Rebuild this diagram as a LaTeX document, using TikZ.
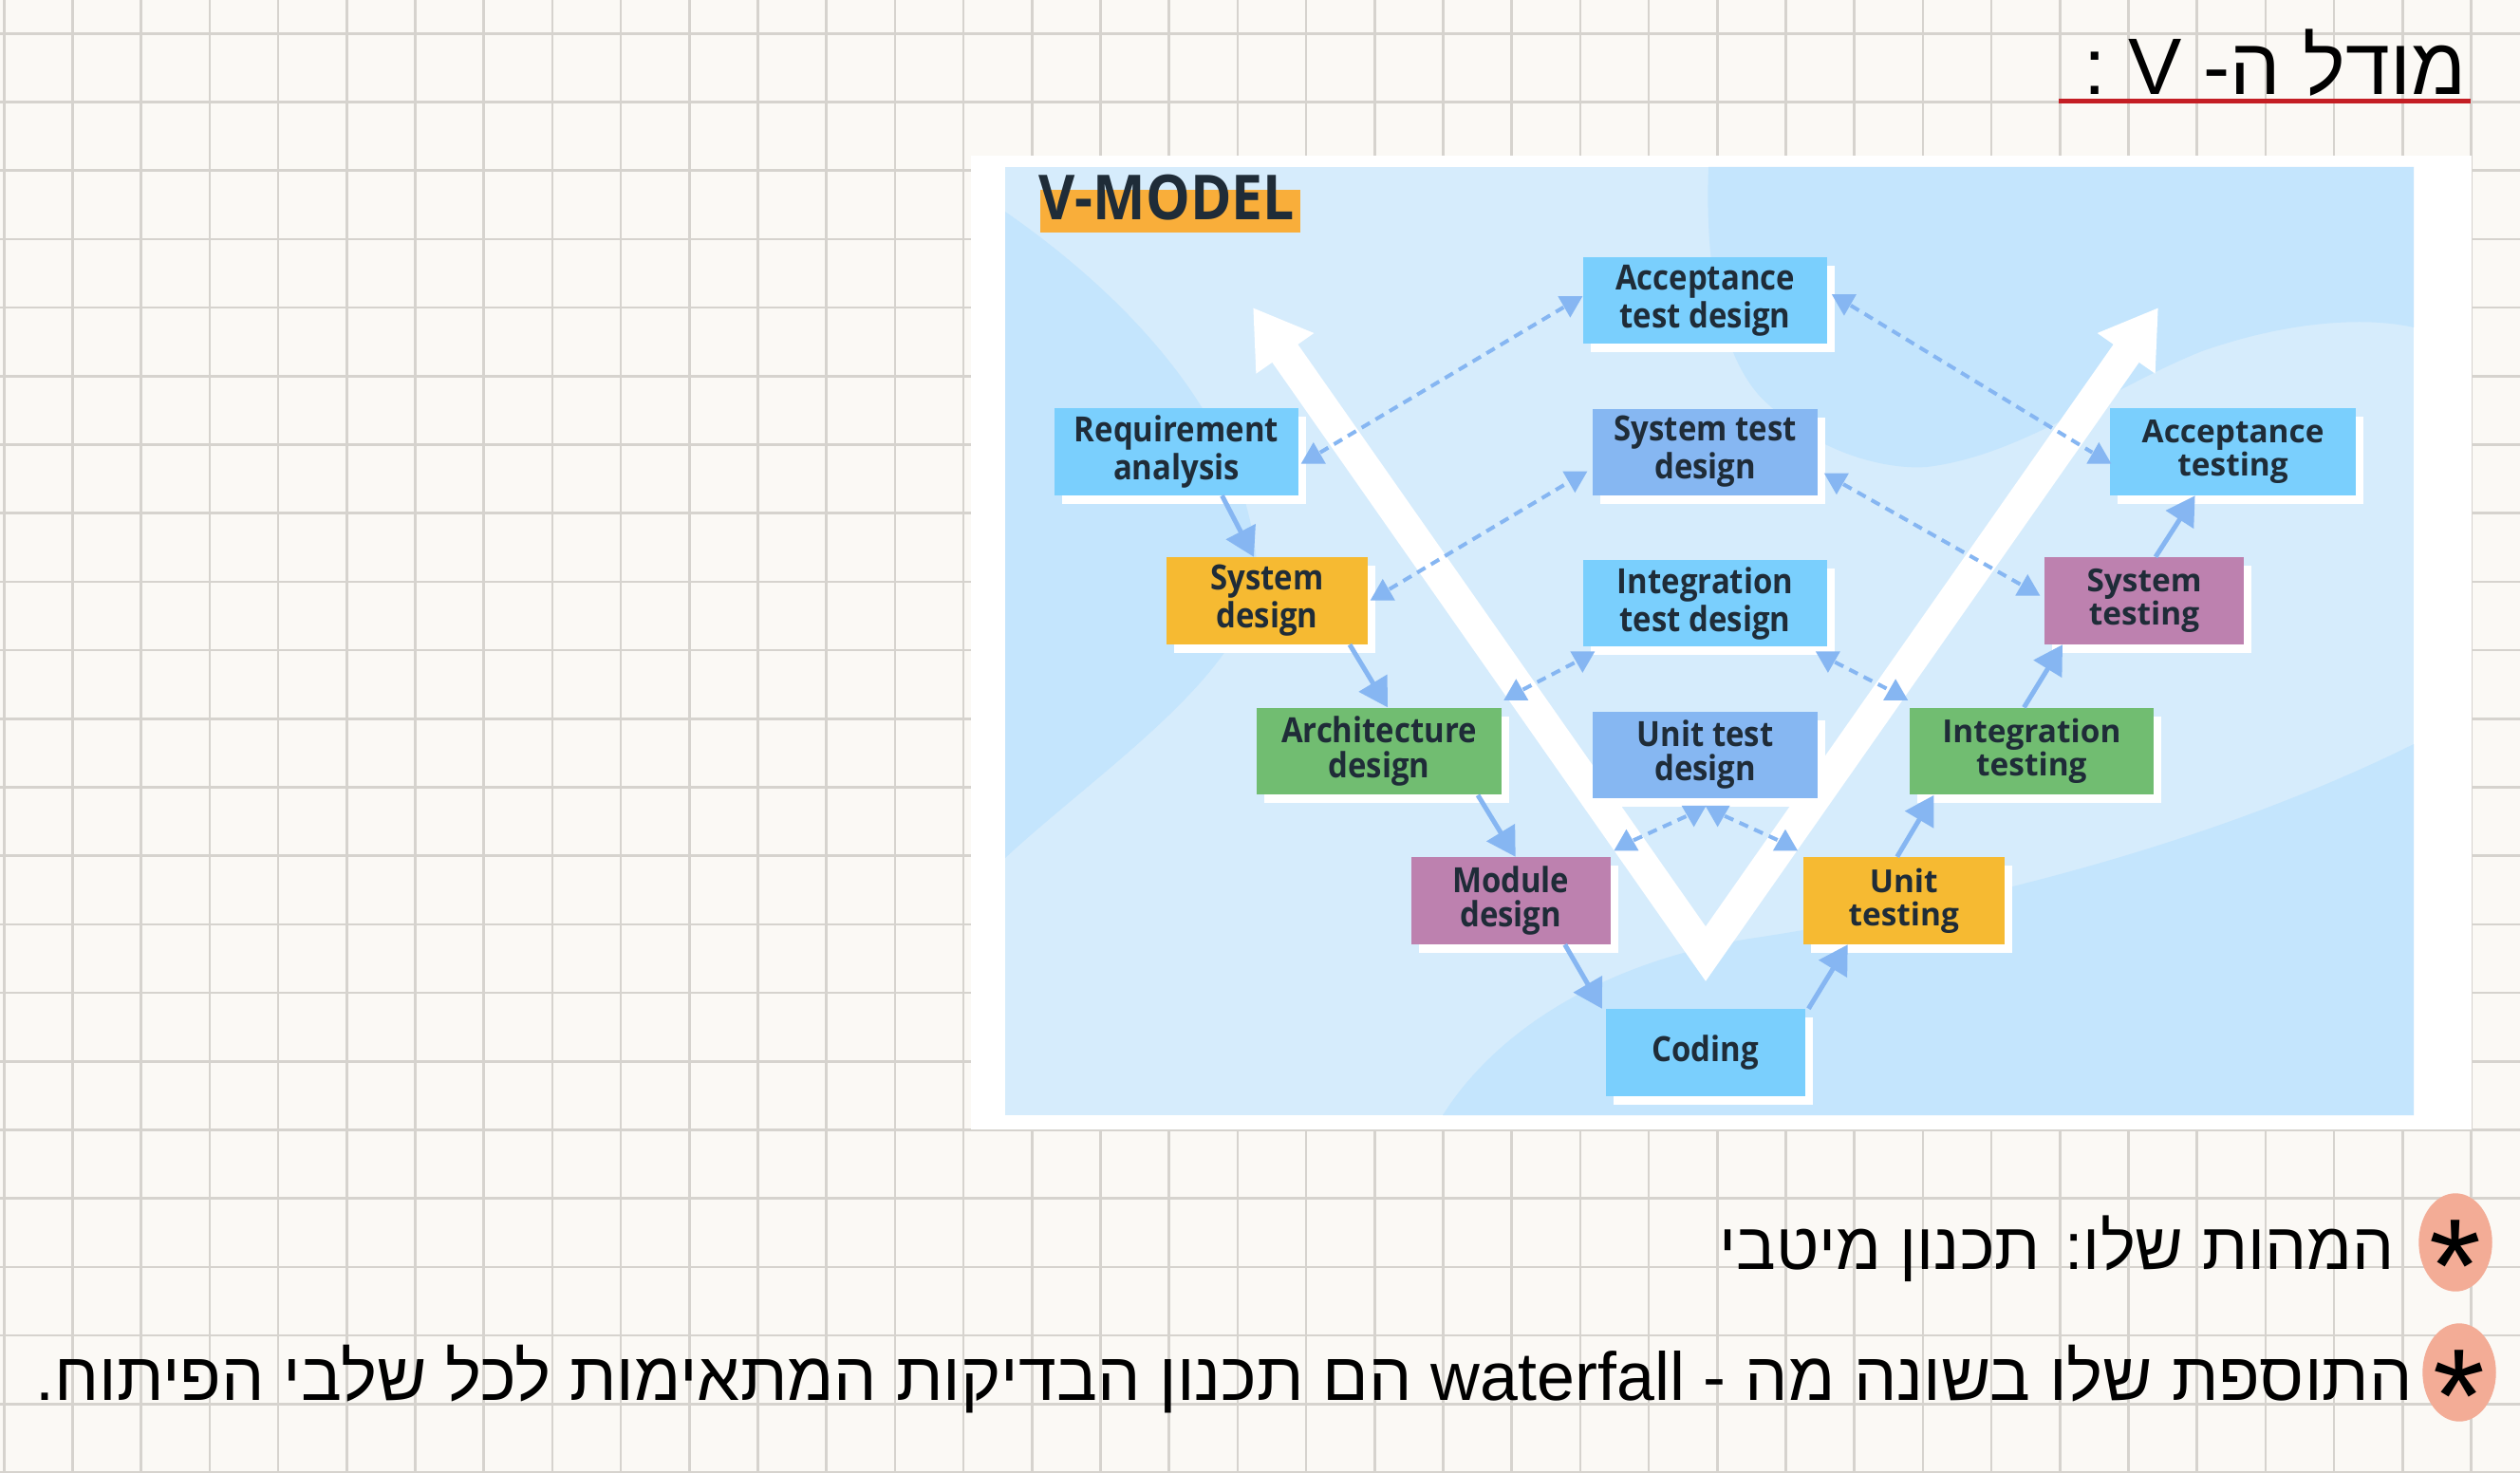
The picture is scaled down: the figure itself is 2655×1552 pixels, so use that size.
\documentclass[tikz,border=0pt]{standalone}
\usepackage{fontspec}
\newfontfamily\hebfont[Script=Hebrew]{Liberation Sans}
\newfontfamily\boxfont{Open Sans}
\newfontfamily\condfont{Open Sans}[FakeStretch=0.9]
\TeXXeTstate=1
\usepackage{tikz}
\usetikzlibrary{arrows.meta, positioning, calc, shapes.geometric, shadows}
\definecolor{paper}{RGB}{251,249,245}
\definecolor{gridgray}{RGB}{214,211,206}
\definecolor{panelblue}{RGB}{214,236,252}
\definecolor{blobblue}{RGB}{196,229,253}
\definecolor{skybox}{RGB}{122,207,253}
\definecolor{periwinkle}{RGB}{134,183,242}
\definecolor{amber}{RGB}{246,186,50}
\definecolor{leaf}{RGB}{113,189,113}
\definecolor{mauve}{RGB}{189,129,175}
\definecolor{linkblue}{RGB}{134,182,242}
\definecolor{inkdark}{RGB}{31,44,56}
\definecolor{titleorange}{RGB}{249,174,58}
\definecolor{underred}{RGB}{196,30,36}
\definecolor{salmon}{RGB}{243,172,150}
\tikzstyle{stage} = [rectangle, minimum height=0.91cm, inner sep=0pt, align=center, text=inkdark, font=\condfont\bfseries\fontsize{10.4}{10.3}\selectfont, drop shadow={shadow xshift=0.08cm, shadow yshift=-0.09cm, fill=white, opacity=1}]
\tikzstyle{teststage} = [stage, font=\boxfont\bfseries\fontsize{9.5}{10}\selectfont]
\tikzstyle{arrow} = [linkblue, line width=0.05cm, -{Triangle[width=0.34cm,length=0.3cm]}]
\tikzstyle{link} = [linkblue, line width=0.04cm, dash pattern=on 0.1cm off 0.07cm]
\tikzstyle{tipup} = [regular polygon, regular polygon sides=3, fill=linkblue, inner sep=0pt, minimum size=0.3cm]
\tikzstyle{tipdown} = [tipup, shape border rotate=180]
\tikzstyle{hebline} = [inner sep=0pt, text=black, font=\hebfont\fontsize{19.8}{24}\selectfont]
\tikzstyle{bullet} = [ellipse, fill=salmon, minimum width=0.68cm, minimum height=0.74cm, inner sep=0pt, font=\hebfont\fontsize{40}{40}\selectfont]

\begin{document}
\begin{tikzpicture}[x=0.01cm, y=-0.01cm]
\useasboundingbox (0,0) rectangle (2655,1552);

% squared notebook paper
\fill[paper] (0,0) rectangle (2655,1552);
\foreach \gx in {0,...,36}
  \draw[gridgray, line width=0.025cm] ({4.3+72.2*\gx},0) -- ({4.3+72.2*\gx},1552);
\foreach \gy in {0,...,21}
  \draw[gridgray, line width=0.025cm] (0,{35.3+72.2*\gy}) -- (2655,{35.3+72.2*\gy});

% pasted V-model picture
\fill[white] (1023,164) rectangle (2604,1190);
\fill[panelblue] (1059,176) rectangle (2543,1175);
\begin{scope}
\clip (1059,176) rectangle (2543,1175);
\fill[blobblue] (1059,223) .. controls (1170,300) and (1310,430) .. (1324,593) .. controls (1330,700) and (1160,810) .. (1059,904) -- cycle;
\fill[blobblue] (1800,176) .. controls (1795,300) and (1820,390) .. (1864,427) .. controls (1920,480) and (1990,495) .. (2030,492) .. controls (2130,480) and (2220,410) .. (2320,370) .. controls (2420,335) and (2500,335) .. (2543,345) -- (2543,176) -- cycle;
\fill[blobblue] (1520,1175) .. controls (1580,1080) and (1700,1010) .. (1850,988) .. controls (2100,950) and (2350,880) .. (2543,784) -- (2543,1175) -- cycle;
\end{scope}

% heading of the picture
\fill[titleorange] (1096,200) rectangle (1370,245);
\node[anchor=base west, inner sep=0pt, text=inkdark, font=\condfont\bfseries\fontsize{18.6}{20}\selectfont] (vtitle) at (1094,232) {V-MODEL};

% big white V
\coordinate (vleft) at (1320,324);
\coordinate (vbottom) at (1797,1005);
\coordinate (vright) at (2274,324);
\draw[white, line width=0.33cm, {Triangle[width=0.7cm,length=0.59cm]}-{Triangle[width=0.7cm,length=0.59cm]}] (vleft) -- (vbottom) -- (vright);

% design stages, left branch
\node[stage, fill=skybox, minimum width=2.57cm] (req) at (1239.5,476) {Requirement\\analysis};
\node[stage, fill=amber, minimum width=2.12cm] (sysdes) at (1335,633) {System\\design};
\node[stage, fill=leaf, minimum width=2.57cm] (archdes) at (1453,791.6) {Architecture\\design};
\node[stage, fill=mauve, minimum width=2.1cm] (moddes) at (1591.7,949) {Module\\design};
\node[stage, fill=skybox, minimum width=2.1cm] (coding) at (1796.6,1109) {Coding};

% test design column
\node[stage, fill=skybox, minimum width=2.57cm] (acctd) at (1796.6,316.6) {Acceptance\\test design};
\node[stage, fill=periwinkle, minimum width=2.37cm, below=0.67cm of acctd] (systd) {System test\\design};
\node[stage, fill=skybox, minimum width=2.57cm, below=0.67cm of systd] (inttd) {Integration\\test design};
\node[stage, fill=periwinkle, minimum width=2.37cm, below=0.67cm of inttd] (unittd) {Unit test\\design};

% testing stages, right branch
\node[teststage, fill=amber, minimum width=2.12cm] (unitt) at (2005.7,949) {Unit\\testing};
\node[teststage, fill=leaf, minimum width=2.57cm] (intt) at (2140.4,791.6) {Integration\\testing};
\node[teststage, fill=mauve, minimum width=2.1cm] (syst) at (2259,633) {System\\testing};
\node[teststage, fill=skybox, minimum width=2.59cm] (acct) at (2352.6,476) {Acceptance\\testing};

% down the left side, up the right side
\draw[arrow] ($(req.south)+(48,0)$) -- ($(sysdes.north)+(-14,0)$);
\draw[arrow] ($(sysdes.south)+(87,0)$) -- ($(archdes.north)+(9,0)$);
\draw[arrow] ($(archdes.south)+(104,0)$) -- ($(moddes.north)+(5,0)$);
\draw[arrow] ($(moddes.south)+(57,0)$) -- ($(coding.north west)+(-3,0)$);
\draw[arrow] ($(coding.north east)+(3,0)$) -- ($(unitt.south)+(-59,0)$);
\draw[arrow] ($(unitt.north)+(-7,0)$) -- ($(intt.south)+(-103,0)$);
\draw[arrow] ($(intt.north)+(-8,0)$) -- ($(syst.south)+(-86,0)$);
\draw[arrow] ($(syst.north)+(12,0)$) -- ($(acct.south)+(-40,0)$);

% triangle ends of the dashed links
\node[tipup] (m1a) at ($(req.east)+(15,5)$) {};
\node[tipdown] (m1b) at ($(acctd.west)+(-13,3)$) {};
\node[tipup] (m2a) at ($(sysdes.east)+(15,-8)$) {};
\node[tipdown] (m2b) at ($(systd.west)+(-18,28)$) {};
\node[tipup] (m3a) at ($(archdes.north east)+(15,-15)$) {};
\node[tipdown] (m3b) at ($(inttd.south west)+(0,12)$) {};
\node[tipup] (m4a) at ($(moddes.north east)+(16,-14)$) {};
\node[tipdown] (m4b) at ($(unittd.south)+(-12,15)$) {};
\node[tipdown] (m5a) at ($(unittd.south)+(13,15)$) {};
\node[tipup] (m5b) at ($(unitt.north west)+(-18,-14)$) {};
\node[tipdown] (m6a) at ($(inttd.south east)+(0,12)$) {};
\node[tipup] (m6b) at ($(intt.north west)+(-14,-15)$) {};
\node[tipdown] (m7a) at ($(systd.east)+(19,30)$) {};
\node[tipup] (m7b) at ($(syst.west)+(-17,-13)$) {};
\node[tipdown] (m8a) at ($(acctd.east)+(17,1)$) {};
\node[tipup] (m8b) at ($(acct.west)+(-11,5)$) {};

% dashed links between design and test
\draw[link] (m1a) -- (m1b);
\draw[link] (m2a) -- (m2b);
\draw[link] (m3a) -- (m3b);
\draw[link] (m4a) -- (m4b);
\draw[link] (m5a) -- (m5b);
\draw[link] (m6a) -- (m6b);
\draw[link] (m7a) -- (m7b);
\draw[link] (m8a) -- (m8b);

% handwritten notes
\node[hebline, anchor=base east, font=\hebfont\fontsize{24}{28}\selectfont] (heading) at (2599,100) {\beginR מודל ה- V :\endR};
\draw[underred, line width=0.05cm] (2169,107) -- (2603,107);

\node[bullet] (dot1) at (2587,1309) {\raisebox{-0.52em}[0.26em][0.26em]{*}};
\node[hebline, anchor=base east] (essence) at (2523,1337) {\beginR המהות שלו: תכנון מיטבי\endR};

\node[bullet] (dot2) at (2591,1446) {\raisebox{-0.52em}[0.26em][0.26em]{*}};
\node[hebline, anchor=base east, font=\hebfont\fontsize{20.4}{24}\selectfont] (addition) at (2542,1475) {\beginR התוספת שלו בשונה מה - \beginL waterfall\endL{} הם תכנון הבדיקות המתאימות לכל שלבי הפיתוח.\endR};

\end{tikzpicture}
\end{document}
